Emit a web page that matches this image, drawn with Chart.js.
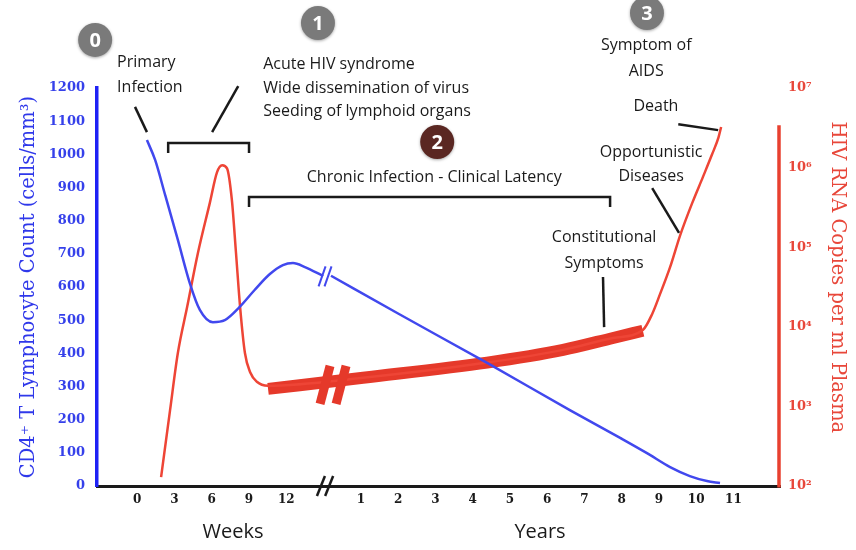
<!DOCTYPE html>
<html>
<head>
<meta charset="utf-8">
<script src="https://cdn.jsdelivr.net/npm/chart.js@4.4.1/dist/chart.umd.min.js"></script>
<style>
  html, body { margin: 0; padding: 0; background: #fff; }
  canvas { display: block; }
</style>
</head>
<body>
<canvas id="hivChart" width="856" height="550"></canvas>
<script>
// x runs in tick slots: 0-4 are weeks 0..12, slot 5 is the axis break, 6-16 are years 1..11
const weekTicks = ['0', '3', '6', '9', '12']
const yearTicks = ['1', '2', '3', '4', '5', '6', '7', '8', '9', '10', '11']
const cd4Ticks = [0, 100, 200, 300, 400, 500, 600, 700, 800, 900, 1000, 1100, 1200]
const rnaTicks = [1e2, 1e3, 1e4, 1e5, 1e6, 1e7]

// CD4+ T cells (cells/mm3), before and after the axis break
const cd4WeeksX = [0.26, 0.48, 0.75, 1.09, 1.41, 1.68, 2.03, 2.35, 2.75, 3.15, 3.56, 3.91, 4.18, 4.5, 4.99]
const cd4Weeks = [1043, 983, 877, 742, 612, 531, 494, 500, 540, 591, 639, 666, 672, 660, 633]
const cd4YearsX = [5.2, 7.0, 9.39, 11.61, 12.96, 13.68, 14.3, 14.83, 15.29, 15.64]
const cd4Years = [634, 520, 371, 229, 145, 99, 57, 30, 15, 9]

// HIV RNA copies per ml plasma
const rnaX = [0.64, 0.88, 1.09, 1.34, 1.63, 1.95, 2.14, 2.28, 2.41, 2.54, 2.65, 2.76, 2.89, 3.03, 3.21, 3.51, 6.06, 9.39, 11.43, 12.77, 13.57, 13.82, 14.03, 14.3, 14.57, 14.89, 15.18, 15.43, 15.6, 15.67]
const rnaCopies = [129, 891, 4680, 17800, 85100, 363000, 871000, 1072000, 977000, 389000, 85100, 17800, 4680, 2690, 2040, 1820, 2290, 3550, 5130, 7240, 9120, 14500, 25700, 56200, 141000, 355000, 759000, 1479000, 2399000, 3236000]

// clinical latency set point (thick band)
const latencyX = [3.51, 6.06, 9.39, 11.43, 12.77, 13.57]
const latencyCopies = [1660, 2290, 3550, 5130, 7240, 8910]

const sup = '⁰¹²³⁴⁵⁶⁷⁸⁹'
const blue = '#4148ee'
const red = '#ee4536'
const ink = '#1a1a1a'
const noteFont = '16px "Open Sans"'

// annotation layout, placed in axis units (x slot, CD4 count)
const notes = [
  { text: 'Primary', x: -0.54, y: 1278, align: 'left' },
  { text: 'Infection', x: -0.54, y: 1203, align: 'left' },
  { text: 'Acute HIV syndrome', x: 3.38, y: 1272, align: 'left' },
  { text: 'Wide dissemination of virus', x: 3.38, y: 1200, align: 'left' },
  { text: 'Seeding of lymphoid organs', x: 3.38, y: 1128, align: 'left' },
  { text: 'Chronic Infection - Clinical Latency', x: 7.97, y: 929, align: 'center' },
  { text: 'Symptom of', x: 13.66, y: 1327, align: 'center' },
  { text: 'AIDS', x: 13.66, y: 1251, align: 'center' },
  { text: 'Death', x: 13.92, y: 1143, align: 'center' },
  { text: 'Opportunistic', x: 13.79, y: 1007, align: 'center' },
  { text: 'Diseases', x: 13.79, y: 932, align: 'center' },
  { text: 'Constitutional', x: 12.53, y: 748, align: 'center' },
  { text: 'Symptoms', x: 12.53, y: 672, align: 'center' }
]
const leaders = [
  [-0.06, 1143, 0.26, 1067],
  [2.71, 1206, 2.01, 1067],
  [14.52, 1091, 15.59, 1073],
  [13.82, 898, 14.54, 763],
  [12.5, 630, 12.53, 479]
]
const brackets = [
  { from: 0.83, to: 3.0, y: 1034 },
  { from: 3.0, to: 12.69, y: 871 }
]
const badges = [
  { text: '0', x: -1.13, y: 1345, color: '#7a7a7a' },
  { text: '1', x: 4.85, y: 1396, color: '#7a7a7a' },
  { text: '2', x: 8.05, y: 1037, color: '#5a2722' },
  { text: '3', x: 13.68, y: 1426, color: '#7a7a7a' }
]

const overlay = {
  id: 'overlay',
  afterDraw(chart) {
    const { ctx, chartArea, scales: { x, yL, yR } } = chart
    const X = v => x.getPixelForValue(v)
    const Y = v => yL.getPixelForValue(v)
    ctx.save()

    // right axis line starts below the top
    ctx.strokeStyle = '#e8402f'
    ctx.lineWidth = 3.5
    ctx.beginPath()
    ctx.moveTo(chartArea.right - 1, yR.getPixelForValue(3.4e6))
    ctx.lineTo(chartArea.right - 1, chartArea.bottom + 1.5)
    ctx.stroke()

    function slash(cx, cy, w, h, lw, color) {
      ctx.strokeStyle = color
      ctx.lineWidth = lw
      ctx.lineCap = 'butt'
      ctx.beginPath()
      ctx.moveTo(cx - w / 2, cy + h / 2)
      ctx.lineTo(cx + w / 2, cy - h / 2)
      ctx.stroke()
    }
    // axis breaks
    slash(X(4.93), Y(0), 8, 20, 2.5, ink)
    slash(X(5.15), Y(0), 8, 20, 2.5, ink)
    slash(X(4.96), Y(632), 7, 20, 2, blue)
    slash(X(5.12), Y(632), 7, 20, 2, blue)
    slash(X(5.04), yR.getPixelForValue(1862), 10, 38, 9, '#e5392a')
    slash(X(5.47), yR.getPixelForValue(1862), 10, 38, 9, '#e5392a')

    // brackets and leader lines
    ctx.strokeStyle = ink
    ctx.lineWidth = 2.5
    ctx.lineCap = 'butt'
    brackets.forEach(b => {
      const y0 = Y(b.y)
      ctx.beginPath()
      ctx.moveTo(X(b.from), y0 + 10)
      ctx.lineTo(X(b.from), y0)
      ctx.lineTo(X(b.to), y0)
      ctx.lineTo(X(b.to), y0 + 10)
      ctx.stroke()
    })
    leaders.forEach(l => {
      ctx.beginPath()
      ctx.moveTo(X(l[0]), Y(l[1]))
      ctx.lineTo(X(l[2]), Y(l[3]))
      ctx.stroke()
    })

    // text notes
    ctx.fillStyle = ink
    ctx.font = noteFont
    ctx.textBaseline = 'middle'
    notes.forEach(n => {
      ctx.textAlign = n.align
      ctx.fillText(n.text, X(n.x), Y(n.y))
    })
    ctx.font = '20px "Open Sans"'
    ctx.textAlign = 'center'
    ctx.fillText('Weeks', X(2.57), Y(-139))
    ctx.fillText('Years', X(10.81), Y(-139))

    // numbered badges
    badges.forEach(b => {
      ctx.save()
      ctx.shadowColor = 'rgba(0,0,0,0.35)'
      ctx.shadowBlur = 3
      ctx.shadowOffsetY = 1
      ctx.fillStyle = b.color
      ctx.beginPath()
      ctx.arc(X(b.x), Y(b.y), 17, 0, Math.PI * 2)
      ctx.fill()
      ctx.restore()
      ctx.fillStyle = '#fff'
      ctx.font = 'bold 20px "Open Sans"'
      ctx.textAlign = 'center'
      ctx.fillText(b.text, X(b.x), Y(b.y) + 1)
    })
    ctx.restore()
  }
}

const lineStyle = {
  pointRadius: 0,
  cubicInterpolationMode: 'monotone'
}

const ctx = document.getElementById('hivChart')
let chx = new Chart(ctx, {
  type: 'line',
  data: {
    datasets: [
      {
        ...lineStyle,
        label: 'CD4+ T Lymphocyte Count (weeks)',
        data: cd4WeeksX.map((v, i) => ({ x: v, y: cd4Weeks[i] })),
        yAxisID: 'yL',
        borderColor: blue,
        borderWidth: 2.5
      },
      {
        ...lineStyle,
        label: 'CD4+ T Lymphocyte Count (years)',
        data: cd4YearsX.map((v, i) => ({ x: v, y: cd4Years[i] })),
        yAxisID: 'yL',
        borderColor: blue,
        borderWidth: 2.5
      },
      {
        ...lineStyle,
        label: 'HIV RNA',
        data: rnaX.map((v, i) => ({ x: v, y: rnaCopies[i] })),
        yAxisID: 'yR',
        borderColor: red,
        borderWidth: 2.5
      },
      {
        ...lineStyle,
        label: 'Clinical latency',
        data: latencyX.map((v, i) => ({ x: v, y: latencyCopies[i] })),
        yAxisID: 'yR',
        borderColor: '#e5392a',
        borderWidth: 12,
        borderCapStyle: 'butt'
      }
    ]
  },
  options: {
    responsive: false,
    animation: false,
    devicePixelRatio: 1,
    layout: { padding: { top: 88, left: 0, right: 0, bottom: 0 } },
    plugins: { legend: { display: false }, tooltip: { enabled: false } },
    scales: {
      x: {
        type: 'linear',
        min: -1.08,
        max: 17.25,
        grid: { display: false, drawTicks: false },
        border: { display: true, color: ink, width: 3 },
        afterBuildTicks: scale => {
          scale.ticks = weekTicks.map((t, i) => ({ value: i }))
            .concat(yearTicks.map((t, i) => ({ value: i + 6 })))
        },
        afterFit: scale => { scale.height = 64 },
        ticks: {
          padding: 7,
          color: ink,
          font: { family: 'DejaVu Serif', size: 12, weight: 'bold' },
          callback: v => v < 5 ? weekTicks[v] : yearTicks[v - 6]
        }
      },
      yL: {
        type: 'linear',
        position: 'left',
        min: 0,
        max: 1200,
        grid: { display: false, drawTicks: false },
        border: { display: true, color: '#1f22f5', width: 3.5 },
        afterBuildTicks: scale => { scale.ticks = cd4Ticks.map(v => ({ value: v })) },
        afterFit: scale => { scale.width = 97 },
        ticks: {
          padding: 12,
          color: '#3540ea',
          font: { family: 'DejaVu Serif', size: 13, weight: 'bold' },
          callback: v => String(v)
        },
        title: {
          display: true,
          text: 'CD4⁺ T Lymphocyte Count (cells/mm³)',
          color: '#2f38ea',
          font: { family: 'DejaVu Serif', size: 19.5 },
          padding: { top: 17.5, bottom: 0 }
        }
      },
      yR: {
        type: 'logarithmic',
        position: 'right',
        min: 100,
        max: 1e7,
        grid: { display: false, drawTicks: false },
        border: { display: false },
        afterBuildTicks: scale => { scale.ticks = rnaTicks.map(v => ({ value: v })) },
        afterFit: scale => { scale.width = 76 },
        ticks: {
          padding: 8,
          color: '#e8473a',
          font: { family: 'DejaVu Serif', size: 13, weight: 'bold' },
          callback: v => '10' + sup[Math.round(Math.log10(v))]
        },
        title: {
          display: true,
          text: 'HIV RNA Copies per ml Plasma\u2003',
          color: '#e8473a',
          font: { family: 'DejaVu Serif', size: 19.5 },
          padding: { top: 7.5, bottom: 0 }
        }
      }
    }
  },
  plugins: [overlay]
})
</script>
</body>
</html>
